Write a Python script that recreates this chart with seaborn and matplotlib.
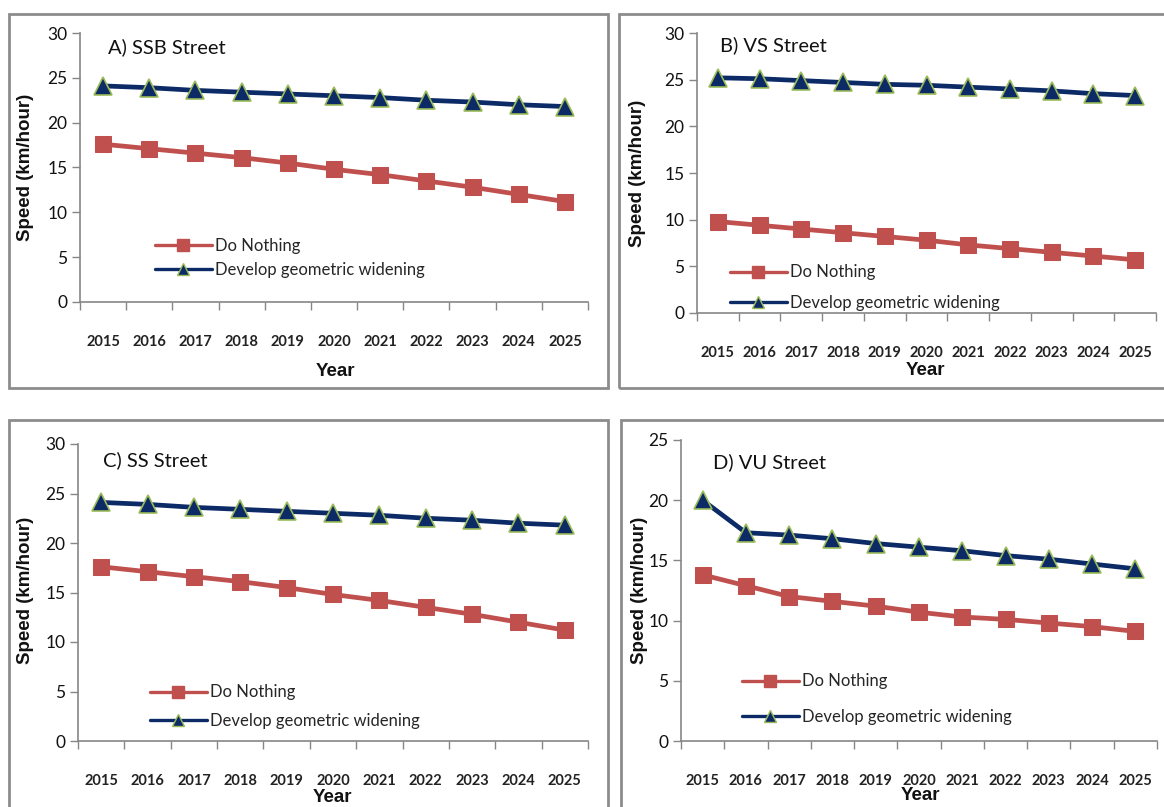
import numpy as np
import pandas as pd
import matplotlib
matplotlib.use("Agg")
import matplotlib.pyplot as plt
from matplotlib.lines import Line2D
from matplotlib.patches import Rectangle
import seaborn as sns

# data
years = ["2015", "2016", "2017", "2018", "2019", "2020", "2021", "2022", "2023", "2024", "2025"]
series_names = ["Do Nothing", "Develop geometric widening"]

ssb_do_nothing = [17.6, 17.1, 16.6, 16.1, 15.5, 14.8, 14.2, 13.5, 12.8, 12.0, 11.2]
ssb_widening = [24.1, 23.9, 23.6, 23.4, 23.2, 23.0, 22.8, 22.5, 22.3, 22.0, 21.8]
vs_do_nothing = [9.8, 9.4, 9.0, 8.6, 8.2, 7.8, 7.3, 6.9, 6.5, 6.1, 5.7]
vs_widening = [25.2, 25.1, 24.9, 24.7, 24.5, 24.4, 24.2, 24.0, 23.8, 23.5, 23.3]
ss_do_nothing = [17.6, 17.1, 16.6, 16.1, 15.5, 14.8, 14.2, 13.5, 12.8, 12.0, 11.2]
ss_widening = [24.1, 23.9, 23.6, 23.4, 23.2, 23.0, 22.8, 22.5, 22.3, 22.0, 21.8]
vu_do_nothing = [13.8, 12.9, 12.0, 11.6, 11.2, 10.7, 10.3, 10.1, 9.8, 9.5, 9.1]
vu_widening = [20.0, 17.3, 17.1, 16.8, 16.4, 16.1, 15.8, 15.4, 15.1, 14.7, 14.3]

titles = ["A) SSB Street", "B) VS Street", "C) SS Street", "D) VU Street"]

RED = "#C0504D"
NAVY = "#0B2A66"
GREEN_EDGE = "#9BBB59"
GRID_GRAY = "#868686"

sns.set_theme(style="white")
plt.rcParams["font.family"] = ["Lato", "DejaVu Sans"]

W, H = 1164, 807
fig = plt.figure(figsize=(W / 100, H / 100), dpi=100)


def fx(x):
    return x / W


def fy(y):
    return 1 - y / H


# panel layout in pixels: box, axes (left, right, top, bottom), ymax, label spots
panels = [
    dict(box=(9, 14, 608, 388), ax=(80, 588, 33, 302), ymax=30,
         do=ssb_do_nothing, dev=ssb_widening, title=(108, 47),
         ylab=(26, 167), xlab=(335, 372), leg=(155, 246, 270)),
    dict(box=(619, 14, 1175, 388), ax=(697, 1156, 33, 313), ymax=30,
         do=vs_do_nothing, dev=vs_widening, title=(720, 45),
         ylab=(637, 173), xlab=(925, 370), leg=(730, 272, 303)),
    dict(box=(9, 420, 608, 830), ax=(78, 588, 444, 741), ymax=30,
         do=ss_do_nothing, dev=ss_widening, title=(103, 460),
         ylab=(26, 590), xlab=(332, 797), leg=(150, 692, 721)),
    dict(box=(621, 420, 1175, 830), ax=(681, 1157, 440, 741), ymax=25,
         do=vu_do_nothing, dev=vu_widening, title=(713, 462),
         ylab=(640, 590), xlab=(920, 796), leg=(742, 681, 717)),
]

for p, title in zip(panels, titles):
    bx0, by0, bx1, by1 = p["box"]
    fig.patches.append(Rectangle((fx(bx0), fy(by1)), fx(bx1 - bx0), (by1 - by0) / H,
                                 transform=fig.transFigure, fill=False,
                                 edgecolor="#8C8C8C", linewidth=2.0, zorder=0))

    l, r, t, b = p["ax"]
    ax = fig.add_axes([fx(l), fy(b), fx(r - l), (b - t) / H])
    pos = np.arange(len(years))

    sns.lineplot(x=pos, y=p["do"], ax=ax, color=RED, linewidth=3.4,
                 marker="s", markersize=12, markeredgecolor=RED,
                 markerfacecolor=RED, clip_on=False)
    sns.lineplot(x=pos, y=p["dev"], ax=ax, color=NAVY, linewidth=3.4,
                 marker="^", markersize=13, markeredgecolor=GREEN_EDGE,
                 markeredgewidth=1.2, markerfacecolor=NAVY, clip_on=False)

    ax.set_xlim(-0.5, len(years) - 0.5)
    ax.set_ylim(0, p["ymax"])
    ax.set_yticks(np.arange(0, p["ymax"] + 1, 5))
    ax.set_xticks(pos)
    ax.set_xticklabels(years, fontsize=10.5, fontweight="bold", color="#222222")
    ax.set_xticks(np.arange(-0.5, len(years)), minor=True)
    ax.tick_params(axis="x", which="major", length=0, pad=24)
    ax.tick_params(axis="x", which="minor", length=6, width=1, color=GRID_GRAY,
                   direction="out")
    ax.tick_params(axis="y", length=6, width=1, color=GRID_GRAY, direction="out",
                   labelsize=12.5, pad=3, labelcolor="#111111")
    ax.yaxis.set_ticks_position("left")
    ax.xaxis.set_ticks_position("bottom")
    for s in ["top", "right"]:
        ax.spines[s].set_visible(False)
    for s in ["left", "bottom"]:
        ax.spines[s].set_color(GRID_GRAY)
        ax.spines[s].set_linewidth(1.2)
    ax.set_xlabel("")
    ax.set_ylabel("")
    ax.set_facecolor("none")

    tx, ty = p["title"]
    fig.text(fx(tx), fy(ty), title, fontsize=14.5, ha="left", va="center", color="#111111")
    yx, yy = p["ylab"]
    fig.text(fx(yx), fy(yy), "Speed (km/hour)", family="Liberation Sans", fontsize=13.5,
             fontweight="bold", rotation=90, ha="center", va="center", color="#111111")
    xx, xy = p["xlab"]
    fig.text(fx(xx), fy(xy), "Year", family="Liberation Sans", fontsize=13.5,
             fontweight="bold", ha="center", va="center", color="#111111")

    lx, ly0, ly1 = p["leg"]
    handles = [
        Line2D([], [], color=RED, linewidth=2.4, marker="s", markersize=9,
               markerfacecolor=RED, markeredgecolor=RED),
        Line2D([], [], color=NAVY, linewidth=2.4, marker="^", markersize=8,
               markerfacecolor=NAVY, markeredgecolor=GREEN_EDGE),
    ]
    fontsize = 12
    fs_px = fontsize * 100 / 72
    spacing = (ly1 - ly0 - fs_px) / fs_px
    ax.legend(handles, series_names, loc="center left",
              bbox_to_anchor=(fx(lx), fy((ly0 + ly1) / 2)), bbox_transform=fig.transFigure,
              frameon=False, fontsize=fontsize, handlelength=3.4, handletextpad=0.2,
              borderpad=0, borderaxespad=0, labelspacing=spacing)

fig.savefig("out.png", dpi=100)
